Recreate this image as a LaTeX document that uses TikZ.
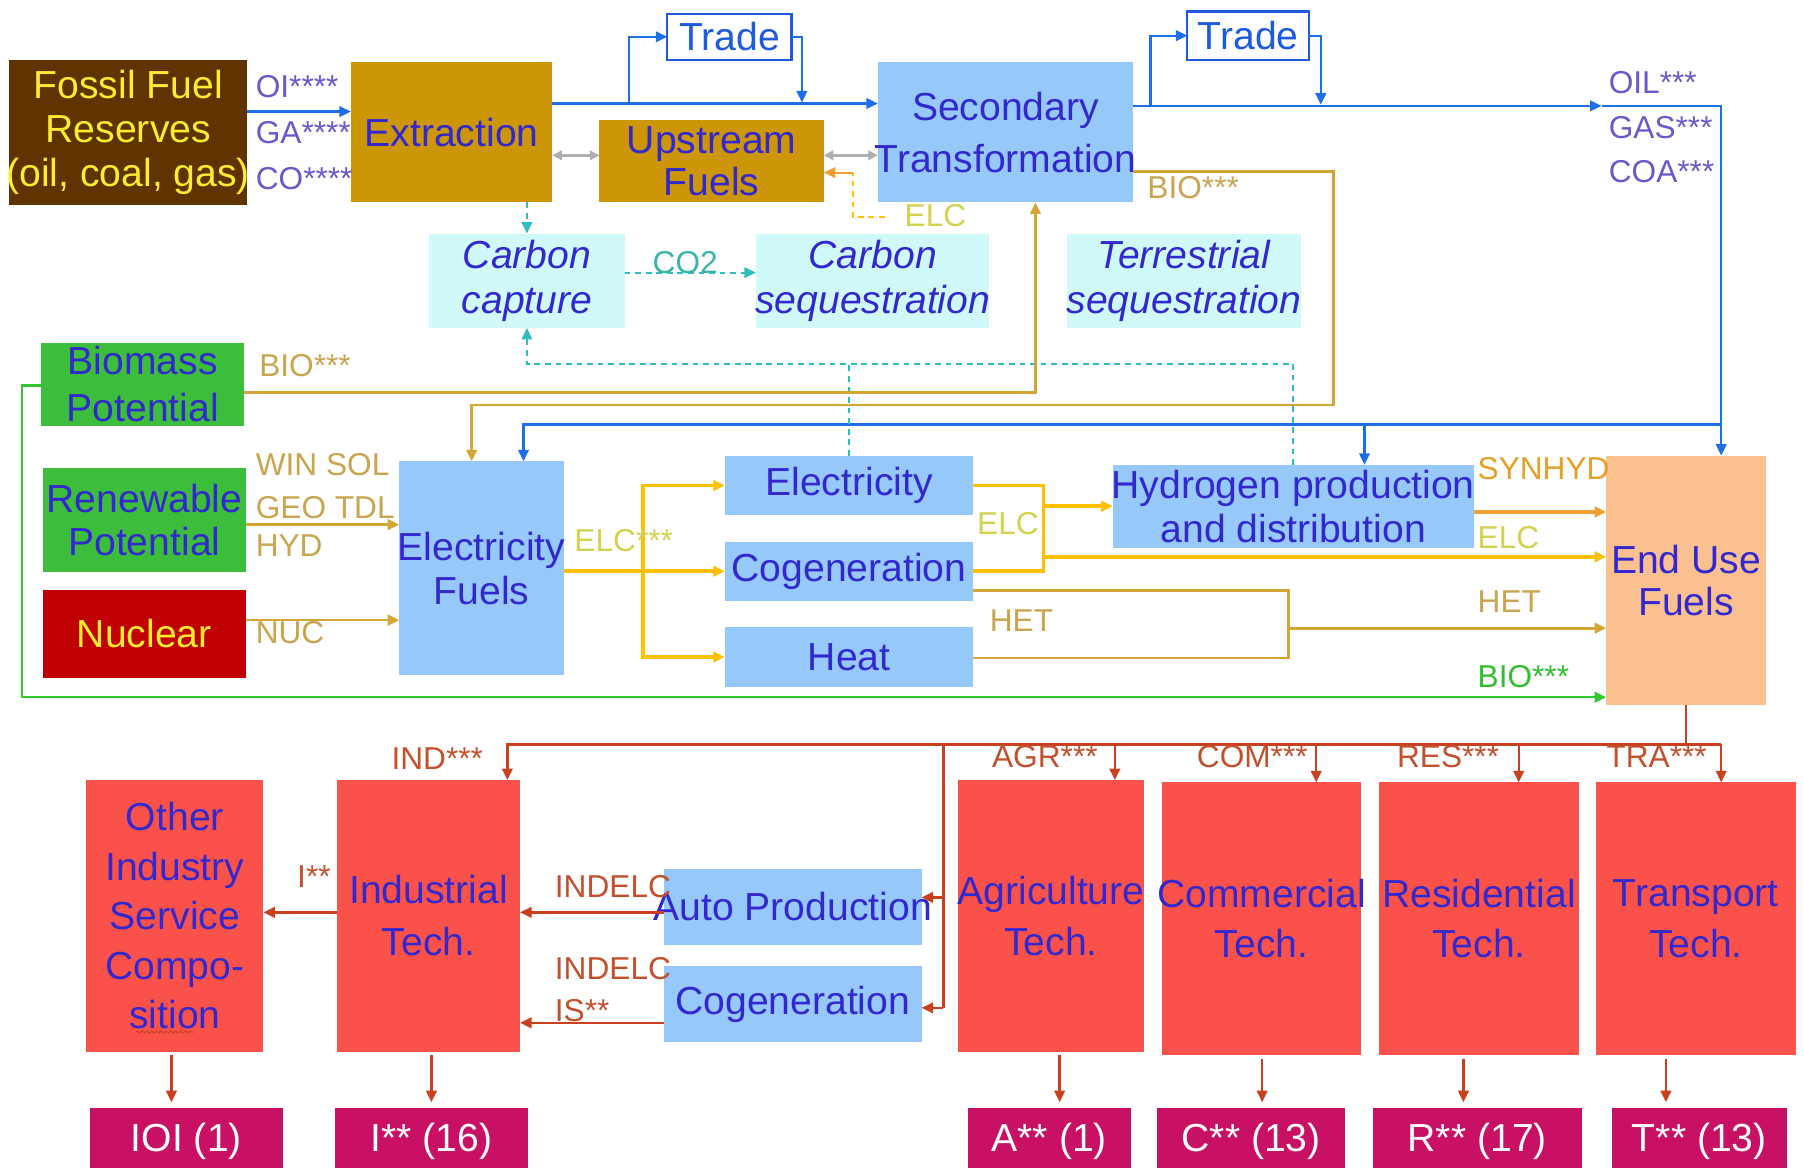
\documentclass[tikz,border=0pt]{standalone}
\usepackage{fontspec}
\setmainfont{Liberation Sans}
\usetikzlibrary{arrows.meta,fit,decorations.pathmorphing}
\definecolor{cBrown}{RGB}{96,52,0}
\definecolor{cGold}{RGB}{204,150,6}
\definecolor{cLBlue}{RGB}{150,200,250}
\definecolor{cCyan}{RGB}{208,250,250}
\definecolor{cGreen}{RGB}{60,190,60}
\definecolor{cDRed}{RGB}{192,0,0}
\definecolor{cSalmon}{RGB}{250,82,74}
\definecolor{cMag}{RGB}{200,16,100}
\definecolor{cPeach}{RGB}{250,192,144}
\definecolor{cTxt}{RGB}{50,40,205}
\definecolor{cYel}{RGB}{255,235,50}
\definecolor{cBlueLn}{RGB}{30,110,230}
\definecolor{cTrade}{RGB}{30,90,220}
\definecolor{cTanLn}{RGB}{212,165,55}
\definecolor{cElcLn}{RGB}{255,192,0}
\definecolor{cSynLn}{RGB}{240,160,50}
\definecolor{cRedLn}{RGB}{200,64,30}
\definecolor{cCyanLn}{RGB}{45,190,190}
\definecolor{cGrayLn}{RGB}{175,175,175}
\definecolor{cGreenLn}{RGB}{50,200,50}
\definecolor{lPurple}{RGB}{105,90,200}
\definecolor{lTan}{RGB}{200,165,80}
\definecolor{lElc}{RGB}{210,210,80}
\definecolor{lSyn}{RGB}{230,160,40}
\definecolor{lGreen}{RGB}{50,190,50}
\definecolor{lRed}{RGB}{195,80,45}
\definecolor{lCyan}{RGB}{60,180,170}
\tikzset{
  boxfill/.style={inner sep=0pt, outer sep=0pt, draw=none},
  boxtxt/.style={inner sep=0pt, align=center, text=cTxt},
  bsk/.style={font=\fontsize{20.4}{#1}\selectfont},
  lbl/.style={font=\fontsize{16.5}{18}\selectfont, inner sep=0pt, anchor=west},
  tip/.style={-{Triangle[length=6pt,width=5.5pt]}},
  tips/.style={{Triangle[length=5pt,width=5pt]}-{Triangle[length=5pt,width=5pt]}},
  lnblue/.style={draw=cBlueLn, line width=1.2pt},
  lngold/.style={draw=cTanLn, line width=1.4pt},
  lnelc/.style={draw=cElcLn, line width=2pt},
  lnsyn/.style={draw=cSynLn, line width=1.6pt},
  lnred/.style={draw=cRedLn, line width=1.2pt},
  lngreen/.style={draw=cGreenLn, line width=1.2pt},
  lncyan/.style={draw=cCyanLn, line width=1pt, dash pattern=on 3pt off 2.5pt},
  lngray/.style={draw=cGrayLn, line width=1.4pt},
  lnelcdash/.style={draw=cElcLn, line width=1pt, dash pattern=on 3pt off 2.5pt},
}
\newcommand{\mybox}[6]{%
  \node[boxfill,fill=#4,fit={(#2) (#3)}] (#1) {};
  \node[boxtxt,#5] (#1-t) at (#1.center) {#6};}
\begin{document}
\begin{tikzpicture}[x=0.6pt,y=-0.6pt]
\useasboundingbox (0,0) rectangle (1568,1015);
% ---------- boxes ----------
\mybox{ffr}{8,52}{215,178}{cBrown}{bsk=22.8,text=cYel}{Fossil Fuel\\Reserves\\(oil, coal, gas)}
\mybox{ext}{305,54}{480,176}{cGold}{bsk=23}{Extraction}
\mybox{ups}{521,104}{716,176}{cGold}{bsk=21.6}{Upstream\\Fuels}
\mybox{sec}{763,54}{985,176}{cLBlue}{bsk=27}{Secondary\\Transformation}
\node[boxfill,fill=white,draw=cTrade,line width=1.2pt,fit={(580,12) (688,52)}] (tr1) {};
\node[boxtxt,bsk=23,text=cTrade] (tr1-t) at (tr1.center) {Trade};
\node[boxfill,fill=white,draw=cTrade,line width=1.2pt,fit={(1032,10) (1138,52)}] (tr2) {};
\node[boxtxt,bsk=23,text=cTrade] (tr2-t) at (tr2.center) {Trade};
\mybox{cap}{373,203}{543,285}{cCyan}{font=\fontsize{20.4}{23.4}\selectfont\itshape}{Carbon\\capture}
\mybox{cseq}{657,203}{860,285}{cCyan}{font=\fontsize{20.4}{23.4}\selectfont\itshape}{Carbon\\sequestration}
\mybox{tseq}{927,203}{1131,285}{cCyan}{font=\fontsize{20.4}{23.4}\selectfont\itshape}{Terrestrial\\sequestration}
\mybox{bio}{36,298}{212,370}{cGreen}{bsk=24.6}{Biomass\\Potential}
\mybox{ren}{37,407}{214,497}{cGreen}{bsk=22.8}{Renewable\\Potential}
\mybox{nuc}{37,513}{214,589}{cDRed}{bsk=23,text=cYel}{Nuclear}
\mybox{ef}{347,401}{490,587}{cLBlue}{bsk=22.8}{Electricity\\Fuels}
\mybox{elec}{630,396}{846,448}{cLBlue}{bsk=23}{Electricity}
\mybox{cogen}{630,471}{846,522}{cLBlue}{bsk=23}{Cogeneration}
\mybox{heat}{630,545}{846,597}{cLBlue}{bsk=23}{Heat}
\mybox{hyd}{967,404}{1281,476}{cLBlue}{bsk=22.8}{Hydrogen production\\and distribution}
\mybox{euf}{1396,396}{1535,613}{cPeach}{bsk=22.2}{End Use\\Fuels}
\mybox{oth}{75,678}{229,914}{cSalmon}{bsk=25.8}{Other\\Industry\\Service\\Compo-\\sition}
\mybox{ind}{293,678}{452,914}{cSalmon}{bsk=27}{Industrial\\Tech.}
\mybox{auto}{577,755}{801,821}{cLBlue}{bsk=23}{Auto Production}
\mybox{cog2}{577,840}{801,906}{cLBlue}{bsk=23}{Cogeneration}
\mybox{agr}{833,678}{994,914}{cSalmon}{bsk=26.4}{Agriculture\\Tech.}
\mybox{com}{1010,680}{1183,917}{cSalmon}{bsk=26.4}{Commercial\\Tech.}
\mybox{res}{1199,680}{1372,917}{cSalmon}{bsk=26.4}{Residential\\Tech.}
\mybox{tra}{1387,680}{1561,917}{cSalmon}{bsk=26.4}{Transport\\Tech.}
\mybox{ioi}{78,963}{246,1015}{cMag}{bsk=23,text=white,yshift=-2pt}{IOI (1)}
\mybox{i16}{291,963}{459,1015}{cMag}{bsk=23,text=white,yshift=-2pt}{I** (16)}
\mybox{a1}{841,963}{983,1015}{cMag}{bsk=23,text=white,yshift=-2pt}{A** (1)}
\mybox{c13}{1006,963}{1169,1015}{cMag}{bsk=23,text=white,yshift=-2pt}{C** (13)}
\mybox{r17}{1193,963}{1375,1015}{cMag}{bsk=23,text=white,yshift=-2pt}{R** (17)}
\mybox{t13}{1401,963}{1553,1015}{cMag}{bsk=23,text=white,yshift=-2pt}{T** (13)}
\draw[decorate,decoration={snake,amplitude=0.5pt,segment length=2.5pt},draw=cRedLn,line width=0.5pt] (118,897) -- (168,897);
% ---------- blue connectors ----------
\draw[lnblue,tip] (ffr.east |- 0,97) -- (ext.west |- 0,97);
\draw[lnblue,tip] (ext.east |- 0,90) -- (sec.west |- 0,90);
\coordinate (t1a) at (547,90);
\coordinate (t1b) at (697,89);
\draw[lnblue,tip] (t1a) |- (tr1.west);
\draw[lnblue,tip] (tr1.east) -| (t1b);
\coordinate (oilp) at (1392,92);
\draw[lnblue,tip] (sec.east |- 0,92) -- (oilp);
\draw[lnblue,tip] (oilp) -- (1496,92) -- (1496,0 |- euf.north);
\coordinate (t2a) at (1000,92);
\coordinate (t2b) at (1148,91);
\draw[lnblue,tip] (t2a) |- (tr2.west);
\draw[lnblue,tip] (tr2.east) -| (t2b);
\draw[lnblue,tip] (1496,369) -- (455,369) -- (455,0 |- ef.north);
\draw[lnblue,tip] (1186,369) -- (1186,0 |- hyd.north);
% ---------- gray ----------
\draw[lngray,tips] (ext.east |- 0,135) -- (ups.west |- 0,135);
\draw[lngray,tips] (ups.east |- 0,135) -- (sec.west |- 0,135);
% ---------- ELC dashed to upstream ----------
\draw[lnelcdash] (769,189) -- (741,189) -- (741,150);
\draw[draw=cSynLn,line width=1pt,tip] (741,150) -- (ups.east |- 0,150);
% ---------- cyan dashed ----------
\draw[lncyan,tip] (cap.north |- ext.south) -- (cap.north);
\draw[lncyan,tip] (cap.east |- 0,237) -- (cseq.west |- 0,237);
\draw[lncyan,tip] (1124,0 |- hyd.north) -- (1124,316) -- (458,316) -- (cap.south);
\draw[lncyan] (elec.north) -- (elec.north |- 0,316);
% ---------- gold (BIO, renewables, nuclear) ----------
\draw[lngold,tip] (bio.east |- 0,341) -- (900,341) -- (900,0 |- sec.south);
\draw[lngold,tip] (sec.east |- 0,149) -- (1159,149) -- (1159,352) -- (410,352) -- (410,0 |- ef.north);
\draw[lngold,tip] (ren.east |- 0,456) -- (ef.west |- 0,456);
\draw[lngold,tip] (nuc.east |- 0,539) -- (ef.west |- 0,539);
% ---------- ELC bright ----------
\coordinate (j1) at (559,0);
\draw[lnelc] (ef.east |- cogen.west) -- (j1 |- cogen.west);
\draw[lnelc,tip] (j1 |- cogen.west) -- (cogen.west);
\draw[lnelc,tip] (j1 |- cogen.west) |- (elec.west);
\draw[lnelc,tip] (j1 |- cogen.west) |- (heat.west);
\coordinate (j2) at (907,0);
\draw[lnelc] (elec.east) -| (j2 |- cogen.east) -- (cogen.east);
\draw[lnelc,tip] (j2 |- hyd.west) -- (hyd.west);
\draw[lnelc,tip] (j2 |- 0,484) -- (euf.west |- 0,484);
\draw[lnsyn,tip] (hyd.east |- 0,445) -- (euf.west |- 0,445);
% ---------- HET ----------
\draw[lngold] (cogen.east |- 0,513) -- (1120,513) -- (1120,572) -- (heat.east |- 0,572);
\draw[lngold,tip] (1120,546) -- (euf.west |- 0,546);
% ---------- green ----------
\draw[lngreen,tip] (bio.west |- 0,335) -- (19,335) -- (19,606) -- (euf.west |- 0,606);
% ---------- red ----------
\draw[lnred] (euf.south) -- (euf.south |- 0,647);
\draw[lnred,tip] (1496,647) -- (441,647) -- (441,0 |- ind.north);
\draw[lnred,tip] (969,647) -- (969,0 |- agr.north);
\draw[lnred,tip] (1144,647) -- (1144,0 |- com.north);
\draw[lnred,tip] (1320,647) -- (1320,0 |- res.north);
\draw[lnred,tip] (1496,647) -- (1496,0 |- tra.north);
\draw[lnred] (820,647) -- (820,876);
\draw[lnred,tip] (820,780) -- (auto.east |- 0,780);
\draw[lnred,tip] (820,876) -- (cog2.east |- 0,876);
\draw[lnred,tip] (auto.west |- 0,793) -- (ind.east |- 0,793);
\draw[lnred,tip] (cog2.west |- 0,889) -- (ind.east |- 0,889);
\draw[lnred,tip] (ind.west |- 0,793) -- (oth.east |- 0,793);
\draw[lnred,tip,shorten <=2pt,shorten >=3pt] (149,0 |- oth.south) -- (149,0 |- ioi.north);
\draw[lnred,tip,shorten <=2pt,shorten >=3pt] (375,0 |- ind.south) -- (375,0 |- i16.north);
\draw[lnred,tip,shorten <=2pt,shorten >=3pt] (921,0 |- agr.south) -- (921,0 |- a1.north);
\draw[lnred,tip,shorten <=2pt,shorten >=3pt] (1097,0 |- com.south) -- (1097,0 |- c13.north);
\draw[lnred,tip,shorten <=2pt,shorten >=3pt] (1272,0 |- res.south) -- (1272,0 |- r17.north);
\draw[lnred,tip,shorten <=2pt,shorten >=3pt] (1448,0 |- tra.south) -- (1448,0 |- t13.north);
% ---------- labels ----------
\node[lbl,text=lPurple] (lOI) at (222,75) {OI****};
\node[lbl,text=lPurple] (lGA) at (222,115) {GA****};
\node[lbl,text=lPurple] (lCO) at (222,155) {CO****};
\node[lbl,text=lPurple] (lOIL) at (1398,72) {OIL***};
\node[lbl,text=lPurple] (lGAS) at (1398,111) {GAS***};
\node[lbl,text=lPurple] (lCOA) at (1398,149) {COA***};
\node[lbl,text=lTan] (lBIO1) at (225,318) {BIO***};
\node[lbl,text=lTan] (lBIO2) at (997,163) {BIO***};
\node[lbl,text=lTan] (lWIN) at (222,404) {WIN SOL};
\node[lbl,text=lTan] (lGEO) at (222,441) {GEO TDL};
\node[lbl,text=lTan] (lHYD) at (222,474) {HYD};
\node[lbl,text=lTan] (lNUC) at (222,550) {NUC};
\node[lbl,text=lElc] (lELC0) at (786,187) {ELC};
\node[lbl,text=lElc] (lELC1) at (499,470) {ELC***};
\node[lbl,text=lElc] (lELC2) at (849,455) {ELC};
\node[lbl,text=lElc] (lELC3) at (1284,467) {ELC};
\node[lbl,text=lSyn] (lSYN) at (1284,407) {SYNHYD};
\node[lbl,text=lTan] (lHET1) at (860,539) {HET};
\node[lbl,text=lTan] (lHET2) at (1284,523) {HET};
\node[lbl,text=lGreen] (lBIO3) at (1284,588) {BIO***};
\node[lbl,text=lCyan] (lCO2) at (567,228) {CO2};
\node[lbl,text=lRed] (lIND) at (340,659) {IND***};
\node[lbl,text=lRed] (lIs) at (258,762) {I**};
\node[lbl,text=lRed] (lINDELC1) at (482,771) {INDELC};
\node[lbl,text=lRed] (lINDELC2) at (482,842) {INDELC};
\node[lbl,text=lRed] (lIS) at (482,878) {IS**};
\node[lbl,text=lRed] (lAGR) at (862,658) {AGR***};
\node[lbl,text=lRed] (lCOM) at (1040,658) {COM***};
\node[lbl,text=lRed] (lRES) at (1214,658) {RES***};
\node[lbl,text=lRed] (lTRA) at (1396,658) {TRA***};
\end{tikzpicture}
\end{document}
